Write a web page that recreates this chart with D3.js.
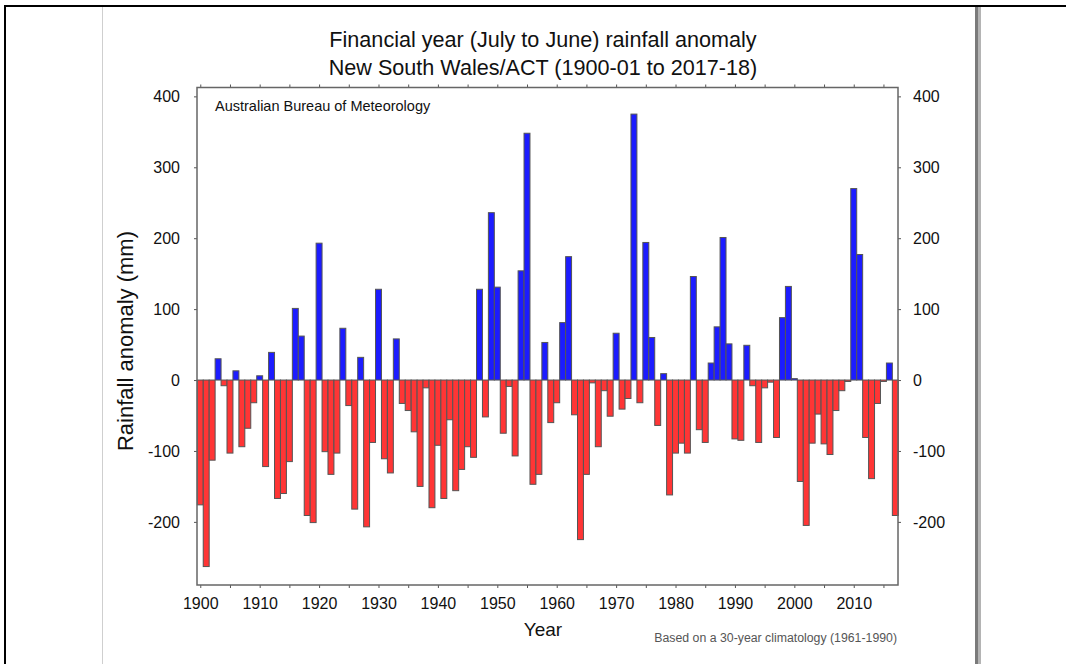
<!DOCTYPE html>
<html>
<head>
<meta charset="utf-8">
<script src="https://cdn.jsdelivr.net/npm/d3@7"></script>
<style>
  body { margin: 0; background: #fff; }
  #wrapper svg { display: block; font-family: "Liberation Sans", Arial, sans-serif; }
</style>
</head>
<body>
<div id="wrapper"></div>
<script>
// financial years 1900-01 .. 2017-18, labelled by start year
const firstYear = 1900
const lastYear = 2017
const anomaly = [
  -176, -263, -113, 30, -8, -103, 13, -94, -68, -32,
  6, -122, 39, -167, -160, -115, 101, 62, -191, -201,
  193, -101, -133, -103, 73, -36, -182, 32, -207, -88,
  128, -111, -131, 58, -33, -43, -73, -150, -11, -180,
  -92, -167, -56, -156, -126, -94, -109, 128, -52, 236,
  131, -75, -9, -107, 154, 348, -147, -133, 53, -60,
  -32, 81, 174, -49, -225, -133, -4, -94, -15, -51,
  66, -41, -26, 375, -32, 194, 60, -64, 9, -162,
  -103, -89, -103, 146, -70, -88, 24, 75, 201, 51,
  -83, -85, 49, -8, -88, -11, -3, -81, 88, 132,
  2, -143, -205, -89, -48, -90, -105, -43, -15, -2,
  270, 177, -81, -139, -33, -2, 24, -191
]
const yTicks = [-200, -100, 0, 100, 200, 300, 400]
const xLabelTicks = [1900, 1910, 1920, 1930, 1940, 1950, 1960, 1970, 1980, 1990, 2000, 2010]
const xMinorTicks = [1900, 1905, 1910, 1915, 1920, 1925, 1930, 1935, 1940, 1945, 1950, 1955,
  1960, 1965, 1970, 1975, 1980, 1985, 1990, 1995, 2000, 2005, 2010, 2015]

const years = d3.range(firstYear, lastYear + 1)
const dataset = years.map((yr, i) => ({ year: yr, value: anomaly[i] }))

const xAccessor = d => d.year
const yAccessor = d => d.value

let dimensions = {
  width: 1066,
  height: 664,
  plot: { left: 197, right: 898, top: 87.5, bottom: 585 },
}

const wrapper = d3.select("#wrapper")
  .append("svg")
  .attr("width", dimensions.width)
  .attr("height", dimensions.height)

// page frame
wrapper.append("line")
  .attr("x1", 4).attr("x2", dimensions.width)
  .attr("y1", 6).attr("y2", 6)
  .attr("stroke", "#000").attr("stroke-width", 2)
wrapper.append("line")
  .attr("x1", 5).attr("x2", 5)
  .attr("y1", 5).attr("y2", dimensions.height)
  .attr("stroke", "#000").attr("stroke-width", 2)
wrapper.append("line")
  .attr("x1", 102.5).attr("x2", 102.5)
  .attr("y1", 7).attr("y2", dimensions.height)
  .attr("stroke", "#cfcfcf").attr("stroke-width", 1)
wrapper.append("rect")
  .attr("x", 975).attr("y", 7).attr("width", 3).attr("height", dimensions.height - 7)
  .attr("fill", "#7a7a7a")
wrapper.append("rect")
  .attr("x", 978).attr("y", 7).attr("width", 3).attr("height", dimensions.height - 7)
  .attr("fill", "#b4b4b4")

const p = dimensions.plot

const xScaler = d3.scaleLinear()
  .domain([1899.45, 2017.45])
  .range([p.left, p.right])

const yScaler = d3.scaleLinear()
  .domain([-289, 412.5])
  .range([p.bottom, p.top])

// bars
const barGroup = wrapper.append("g")
barGroup.selectAll("rect")
  .data(dataset)
  .enter()
  .append("rect")
  .attr("x", d => xScaler(xAccessor(d) - 0.5))
  .attr("width", d => xScaler(xAccessor(d) + 0.5) - xScaler(xAccessor(d) - 0.5))
  .attr("y", d => yScaler(Math.max(0, yAccessor(d))))
  .attr("height", d => Math.abs(yScaler(yAccessor(d)) - yScaler(0)))
  .attr("fill", d => yAccessor(d) >= 0 ? "#1c1cff" : "#ff3535")
  .attr("stroke", "#555")
  .attr("stroke-width", 1)

// axes
const styleAxis = g => {
  g.select(".domain").remove()
  g.selectAll(".tick line").attr("stroke", "#555")
  g.selectAll(".tick text")
    .attr("fill", "#111")
    .attr("font-size", "16px")
    .attr("font-family", "Liberation Sans, Arial, sans-serif")
}

// plain hyphen for negatives, like the original
const plainNum = d => String(d)

const yAxisLeft = d3.axisLeft(yScaler).tickValues(yTicks).tickSize(3).tickPadding(14).tickFormat(plainNum)
wrapper.append("g")
  .attr("transform", `translate(${p.left},0)`)
  .call(yAxisLeft)
  .call(styleAxis)

const yAxisRight = d3.axisRight(yScaler).tickValues(yTicks).tickSize(3).tickPadding(12).tickFormat(plainNum)
wrapper.append("g")
  .attr("transform", `translate(${p.right},0)`)
  .call(yAxisRight)
  .call(styleAxis)

const xAxisBottom = d3.axisBottom(xScaler).tickValues(xMinorTicks).tickSize(3).tickFormat("")
wrapper.append("g")
  .attr("transform", `translate(0,${p.bottom})`)
  .call(xAxisBottom)
  .call(styleAxis)

const xAxisLabels = d3.axisBottom(xScaler).tickValues(xLabelTicks).tickSize(0).tickPadding(13)
  .tickFormat(plainNum)
wrapper.append("g")
  .attr("transform", `translate(0,${p.bottom})`)
  .call(xAxisLabels)
  .call(styleAxis)

const xAxisTop = d3.axisTop(xScaler).tickValues(xMinorTicks).tickSize(3).tickFormat("")
wrapper.append("g")
  .attr("transform", `translate(0,${p.top})`)
  .call(xAxisTop)
  .call(styleAxis)

// plot frame
wrapper.append("rect")
  .attr("x", p.left).attr("y", p.top)
  .attr("width", p.right - p.left).attr("height", p.bottom - p.top)
  .attr("fill", "none")
  .attr("stroke", "#666")
  .attr("stroke-width", 1.5)

// texts
wrapper.append("text")
  .attr("x", 543).attr("y", 47)
  .attr("text-anchor", "middle")
  .attr("font-size", "21.6px")
  .attr("fill", "#111")
  .text("Financial year (July to June) rainfall anomaly")

wrapper.append("text")
  .attr("x", 543).attr("y", 75)
  .attr("text-anchor", "middle")
  .attr("font-size", "21.6px")
  .attr("fill", "#111")
  .text("New South Wales/ACT (1900-01 to 2017-18)")

wrapper.append("text")
  .attr("x", 215).attr("y", 111)
  .attr("font-size", "14.5px")
  .attr("fill", "#111")
  .text("Australian Bureau of Meteorology")

wrapper.append("text")
  .attr("transform", "translate(133,341) rotate(-90)")
  .attr("text-anchor", "middle")
  .attr("font-size", "22px")
  .attr("fill", "#111")
  .text("Rainfall anomaly (mm)")

wrapper.append("text")
  .attr("x", 543).attr("y", 636)
  .attr("text-anchor", "middle")
  .attr("font-size", "19px")
  .attr("fill", "#111")
  .text("Year")

wrapper.append("text")
  .attr("x", 897).attr("y", 642)
  .attr("text-anchor", "end")
  .attr("font-size", "12.3px")
  .attr("fill", "#555")
  .text("Based on a 30-year climatology (1961-1990)")
</script>
</body>
</html>
